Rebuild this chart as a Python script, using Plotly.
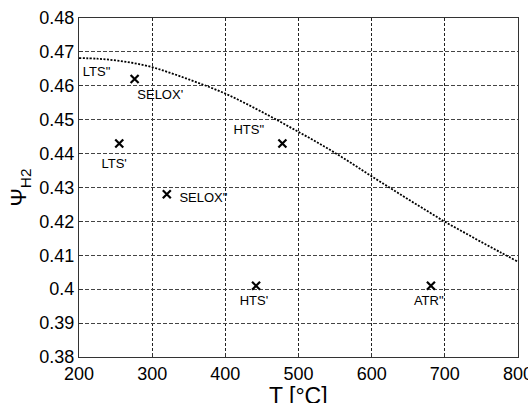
import plotly.graph_objects as go

# Curve data (T in °C, Psi_H2)
curve_T = [200, 225, 250, 275, 300, 325, 350, 375, 400, 425, 450, 475, 500, 525, 550, 575, 600, 625, 650, 675, 700, 725, 750, 775, 800]
curve_psi = [0.4682, 0.4680, 0.4675, 0.4667, 0.4655, 0.4638, 0.4619, 0.4599, 0.4577, 0.4551, 0.4523, 0.4494, 0.4464, 0.4434, 0.4402, 0.4368, 0.4333, 0.4299, 0.4265, 0.4232, 0.4199, 0.4169, 0.4139, 0.4110, 0.4081]

# Marker points
pt_T = [276, 255, 320, 442, 478, 681]
pt_psi = [0.462, 0.443, 0.428, 0.401, 0.443, 0.401]

# Labels
lab_text = ['LTS"', "SELOX'", 'HTS"', "LTS'", 'SELOX"', "HTS'", 'ATR"']
lab_T = [224, 311, 432, 248, 370, 439, 678]
lab_psi = [0.4640, 0.4570, 0.4467, 0.4368, 0.4268, 0.3963, 0.3963]

x_ticks = [200, 300, 400, 500, 600, 700, 800]
y_ticks = [0.38, 0.39, 0.40, 0.41, 0.42, 0.43, 0.44, 0.45, 0.46, 0.47, 0.48]
y_ticktext = ["0.38", "0.39", "0.4", "0.41", "0.42", "0.43", "0.44", "0.45", "0.46", "0.47", "0.48"]

x_title = "T [°C]"
y_title = "Ψ<sub>H2</sub>"

FONT = "Liberation Sans, Arial, sans-serif"

fig = go.Figure()
fig.add_trace(go.Scatter(x=curve_T, y=curve_psi, mode="lines",
                         line=dict(color="black", width=1.8, dash="2px,1.5px", shape="spline"),
                         showlegend=False, hoverinfo="skip"))
fig.add_trace(go.Scatter(x=pt_T, y=pt_psi, mode="markers",
                         marker=dict(symbol="x-thin", size=8, line=dict(color="black", width=2.2)),
                         showlegend=False))
fig.add_trace(go.Scatter(x=lab_T, y=lab_psi, mode="text", text=lab_text,
                         textfont=dict(family=FONT, size=13, color="black"),
                         textposition="middle center", showlegend=False, hoverinfo="skip"))

fig.update_layout(
    width=528, height=403,
    margin=dict(l=78.5, r=9.5, t=17.5, b=46),
    paper_bgcolor="white", plot_bgcolor="white",
    font=dict(family=FONT, color="black"),
    xaxis=dict(range=[199.99, 800.01], tickvals=x_ticks, ticktext=[str(v) for v in x_ticks],
               tickfont=dict(size=18), showgrid=True, gridcolor="#222",
               griddash="3px,2px", gridwidth=1, zeroline=False,
               showline=True, linecolor="#333", linewidth=1.2, mirror=True,
               ticks="inside", ticklen=4, tickcolor="#333",
               ticklabeloverflow="allow", automargin=False),
    yaxis=dict(range=[0.37999, 0.48001], tickvals=y_ticks, ticktext=y_ticktext,
               tickfont=dict(size=18), showgrid=True, gridcolor="#444",
               griddash="4px,2px", gridwidth=1, zeroline=False,
               showline=True, linecolor="#333", linewidth=1.2, mirror=True,
               ticks="inside", ticklen=4, tickcolor="#333",
               ticklabeloverflow="allow", automargin=False,
               title=dict(text=y_title, font=dict(size=22), standoff=6)),
    annotations=[dict(text=x_title, xref="paper", yref="paper", x=0.5, y=-0.115,
                      xanchor="center", yanchor="middle", showarrow=False,
                      font=dict(family=FONT, size=23, color="black"))],
)

fig.write_html("out.html")
